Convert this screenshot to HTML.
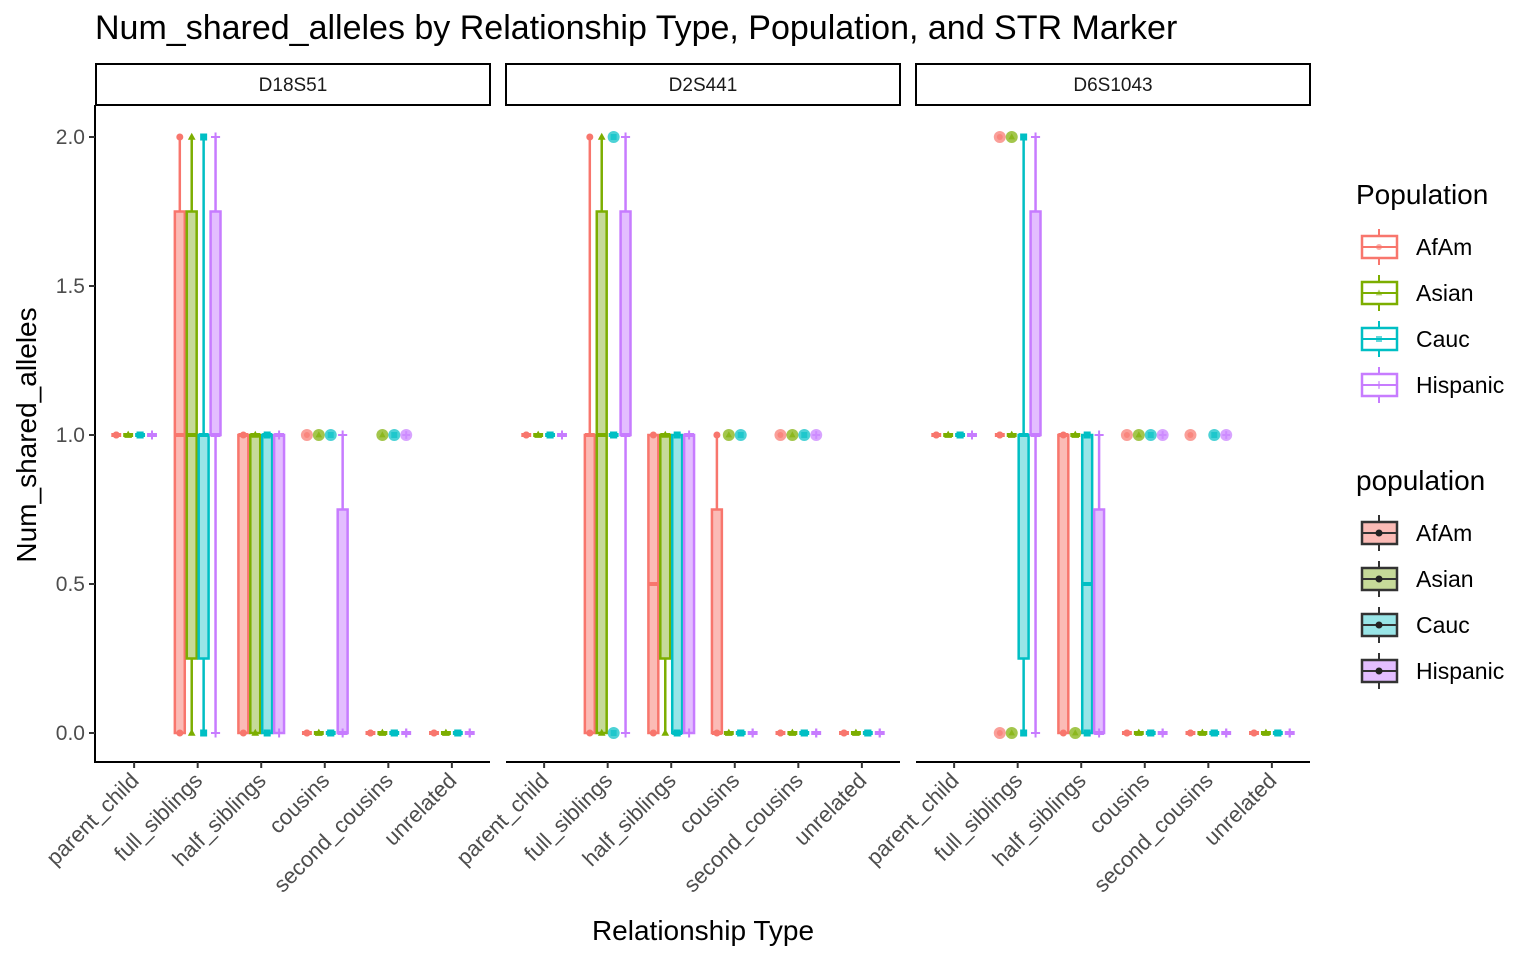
<!DOCTYPE html>
<html><head><meta charset="utf-8">
<style>
html,body{margin:0;padding:0;background:#fff;}
svg{display:block;font-family:"Liberation Sans",Arial,sans-serif;}
</style></head>
<body>
<svg id="chart" width="1536" height="960" viewBox="0 0 1536 960" xmlns="http://www.w3.org/2000/svg">
<text x="95" y="39" font-size="34" fill="#000">Num_shared_alleles by Relationship Type, Population, and STR Marker</text>
<text x="703" y="940" font-size="28" text-anchor="middle" fill="#000">Relationship Type</text>
<text transform="translate(36,435) rotate(-90)" font-size="28" text-anchor="middle" fill="#000">Num_shared_alleles</text>
<g id="plots"></g>
<g id="legend"></g>
</svg>
<script>
const panels = ["D18S51","D2S441","D6S1043"];
const categories = ["parent_child","full_siblings","half_siblings","cousins","second_cousins","unrelated"];
const populations = ["AfAm","Asian","Cauc","Hispanic"];
const yTicks = [0,0.5,1,1.5,2];
const yTickLabels = ["0.0","0.5","1.0","1.5","2.0"];
// box stats [min,q1,median,q3,max] per panel, category, population
const statsD18S51 = [
 [[1,1,1,1,1],[1,1,1,1,1],[1,1,1,1,1],[1,1,1,1,1]],
 [[0,0,1,1.75,2],[0,0.25,1,1.75,2],[0,0.25,1,1,2],[0,1,1,1.75,2]],
 [[0,0,1,1,1],[0,0,1,1,1],[0,0,1,1,1],[0,0,1,1,1]],
 [[0,0,0,0,0],[0,0,0,0,0],[0,0,0,0,0],[0,0,0,0.75,1]],
 [[0,0,0,0,0],[0,0,0,0,0],[0,0,0,0,0],[0,0,0,0,0]],
 [[0,0,0,0,0],[0,0,0,0,0],[0,0,0,0,0],[0,0,0,0,0]]
];
const statsD2S441 = [
 [[1,1,1,1,1],[1,1,1,1,1],[1,1,1,1,1],[1,1,1,1,1]],
 [[0,0,1,1,2],[0,0,1,1.75,2],[1,1,1,1,1],[0,1,1,1.75,2]],
 [[0,0,0.5,1,1],[0,0.25,1,1,1],[0,0,0,1,1],[0,0,1,1,1]],
 [[0,0,0,0.75,1],[0,0,0,0,0],[0,0,0,0,0],[0,0,0,0,0]],
 [[0,0,0,0,0],[0,0,0,0,0],[0,0,0,0,0],[0,0,0,0,0]],
 [[0,0,0,0,0],[0,0,0,0,0],[0,0,0,0,0],[0,0,0,0,0]]
];
const statsD6S1043 = [
 [[1,1,1,1,1],[1,1,1,1,1],[1,1,1,1,1],[1,1,1,1,1]],
 [[1,1,1,1,1],[1,1,1,1,1],[0,0.25,1,1,2],[0,1,1,1.75,2]],
 [[0,0,1,1,1],[1,1,1,1,1],[0,0,0.5,1,1],[0,0,0,0.75,1]],
 [[0,0,0,0,0],[0,0,0,0,0],[0,0,0,0,0],[0,0,0,0,0]],
 [[0,0,0,0,0],[0,0,0,0,0],[0,0,0,0,0],[0,0,0,0,0]],
 [[0,0,0,0,0],[0,0,0,0,0],[0,0,0,0,0],[0,0,0,0,0]]
];
// outliers: [panelIndex, categoryIndex, populationIndex, value]
const outlierPanel = [0,0,0,0,0,0, 1,1,1,1,1,1,1,1, 2,2,2,2,2, 2,2,2,2, 2,2,2];
const outlierCat   = [3,3,3,4,4,4, 1,1,3,3,4,4,4,4, 1,1,1,1,2, 3,3,3,3, 4,4,4];
const outlierPop   = [0,1,2,1,2,3, 2,2,1,2,0,1,2,3, 0,0,1,1,1, 0,1,2,3, 0,2,3];
const outlierVal   = [1,1,1,1,1,1, 2,0,1,1,1,1,1,1, 2,0,2,0,0, 1,1,1,1, 1,1,1];

const allStats = [statsD18S51, statsD2S441, statsD6S1043];
const colors = ["#F8766D","#7CAE00","#00BFC4","#C77CFF"];
const fills = ["#FBBBB6","#C6DA99","#99E5E7","#E3BEFF"];
const NS = "http://www.w3.org/2000/svg";
const panelX0 = [96,506,916], panelW = 394;
const plotTop = 105, axisY = 762;
function yScale(v){ return 733 - v*298; }
function xScale(p, ci){ const step = panelW/6.2; return panelX0[p] + (0.6+ci)*step; }
function el(tag, attrs, parent){ const e=document.createElementNS(NS,tag); for(const k in attrs) e.setAttribute(k,attrs[k]); parent.appendChild(e); return e; }
function shape(parent, pop, cx, cy, r, alpha){
  const c = colors[pop]; let e;
  if(pop===0) e = el("circle",{cx:cx,cy:cy,r:r,fill:c,"fill-opacity":alpha},parent);
  else if(pop===1) e = el("polygon",{points:`${cx},${cy-r*1.2} ${cx-r*1.1},${cy+r*0.8} ${cx+r*1.1},${cy+r*0.8}`,fill:c,"fill-opacity":alpha},parent);
  else if(pop===2) e = el("rect",{x:cx-r,y:cy-r,width:2*r,height:2*r,fill:c,"fill-opacity":alpha},parent);
  else e = el("path",{d:`M${cx-r*1.3},${cy}H${cx+r*1.3}M${cx},${cy-r*1.3}V${cy+r*1.3}`,stroke:c,"stroke-width":2,"stroke-opacity":alpha},parent);
  return e;
}
const plots = document.getElementById("plots");
const step = panelW/6.2, bw = step*0.75/4;
panels.forEach((pname,p)=>{
  const g = el("g",{},plots);
  
  
  const strip = el("rect",{x:panelX0[p],y:64,width:panelW,height:41,fill:"#fff",stroke:"#000","stroke-width":2},g);
  
  
  const st = el("text",{x:panelX0[p]+panelW/2,y:91,"font-size":19,"text-anchor":"middle",fill:"#1a1a1a"},g);
  st.textContent = pname;
  
  
  const xa = el("line",{x1:panelX0[p],x2:panelX0[p]+panelW,y1:axisY,y2:axisY,stroke:"#000","stroke-width":2},g);
  
  
  if(p===0){
    const ya = el("line",{x1:95,x2:95,y1:plotTop,y2:axisY+1,stroke:"#000","stroke-width":2},g);
    
    
    yTicks.forEach((t,i)=>{
      el("line",{x1:89,x2:95,y1:yScale(t),y2:yScale(t),stroke:"#333","stroke-width":2},g);
      const tl = el("text",{x:85,y:yScale(t)+7,"font-size":21,"text-anchor":"end",fill:"#4d4d4d"},g);
      tl.textContent = yTickLabels[i];
      
      
    });
  }
  categories.forEach((cat,ci)=>{
    const cx = xScale(p,ci);
    el("line",{x1:cx,x2:cx,y1:axisY,y2:axisY+6,stroke:"#333","stroke-width":2},g);
    const tl = el("text",{transform:`translate(${cx+6},${axisY+20}) rotate(-45)`,"font-size":22,"text-anchor":"end",fill:"#4d4d4d"},g);
    tl.textContent = cat;
    
    
    populations.forEach((pop,pi)=>{
      const s = allStats[p][ci][pi];
      const bx = cx - step*0.375 + pi*bw;
      const mx = bx + bw/2;
      const bg = el("g",{},g);
      
      
      const c = colors[pi];
      el("line",{x1:mx,x2:mx,y1:yScale(s[3]),y2:yScale(s[4]),stroke:c,"stroke-width":2.5},bg);
      el("line",{x1:mx,x2:mx,y1:yScale(s[0]),y2:yScale(s[1]),stroke:c,"stroke-width":2.5},bg);
      el("rect",{x:bx+1,y:yScale(s[3]),width:bw-2,height:Math.max(0,yScale(s[1])-yScale(s[3])),fill:fills[pi],stroke:c,"stroke-width":2.5},bg);
      el("line",{x1:bx+1,x2:bx+bw-1,y1:yScale(s[2]),y2:yScale(s[2]),stroke:c,"stroke-width":4},bg);
      shape(bg,pi,mx,yScale(s[0]),3.5,1);
      shape(bg,pi,mx,yScale(s[4]),3.5,1);
    });
  });
});
outlierVal.forEach((v,i)=>{
  const p = outlierPanel[i], ci = outlierCat[i], pi = outlierPop[i];
  const mx = xScale(p,ci) - step*0.375 + pi*bw + bw/2;
  const o = el("circle",{cx:mx,cy:yScale(v),r:6,fill:colors[pi],"fill-opacity":0.7},plots);
  
  
  shape(plots,pi,mx,yScale(v),3,0.6);
});
const lg = document.getElementById("legend");
function legendBlock(title, y0, filled){
  const t = el("text",{x:1356,y:y0,"font-size":28,fill:"#000"},lg);
  t.textContent = title;
  
  
  populations.forEach((pop,pi)=>{
    const cy = y0+43+pi*46;
    const g = el("g",{},lg);
    
    
    const sc = filled ? "#333" : colors[pi];
    el("line",{x1:1379,x2:1379,y1:cy-18,y2:cy+18,stroke:sc,"stroke-width":2},g);
    el("rect",{x:1362,y:cy-11,width:35,height:22,fill:filled?fills[pi]:"#fff",stroke:sc,"stroke-width":2.5},g);
    el("line",{x1:1362,x2:1397,y1:cy,y2:cy,stroke:sc,"stroke-width":2},g);
    if(filled) el("circle",{cx:1379,cy:cy,r:3.5,fill:"#222"},g);
    else shape(g,pi,1379,cy,3,0.6);
    const lt = el("text",{x:1416,y:cy+8,"font-size":23,fill:"#000"},g);
    lt.textContent = pop;
  });
}
legendBlock("Population",204,false);
legendBlock("population",490,true);
</script>
</body></html>
